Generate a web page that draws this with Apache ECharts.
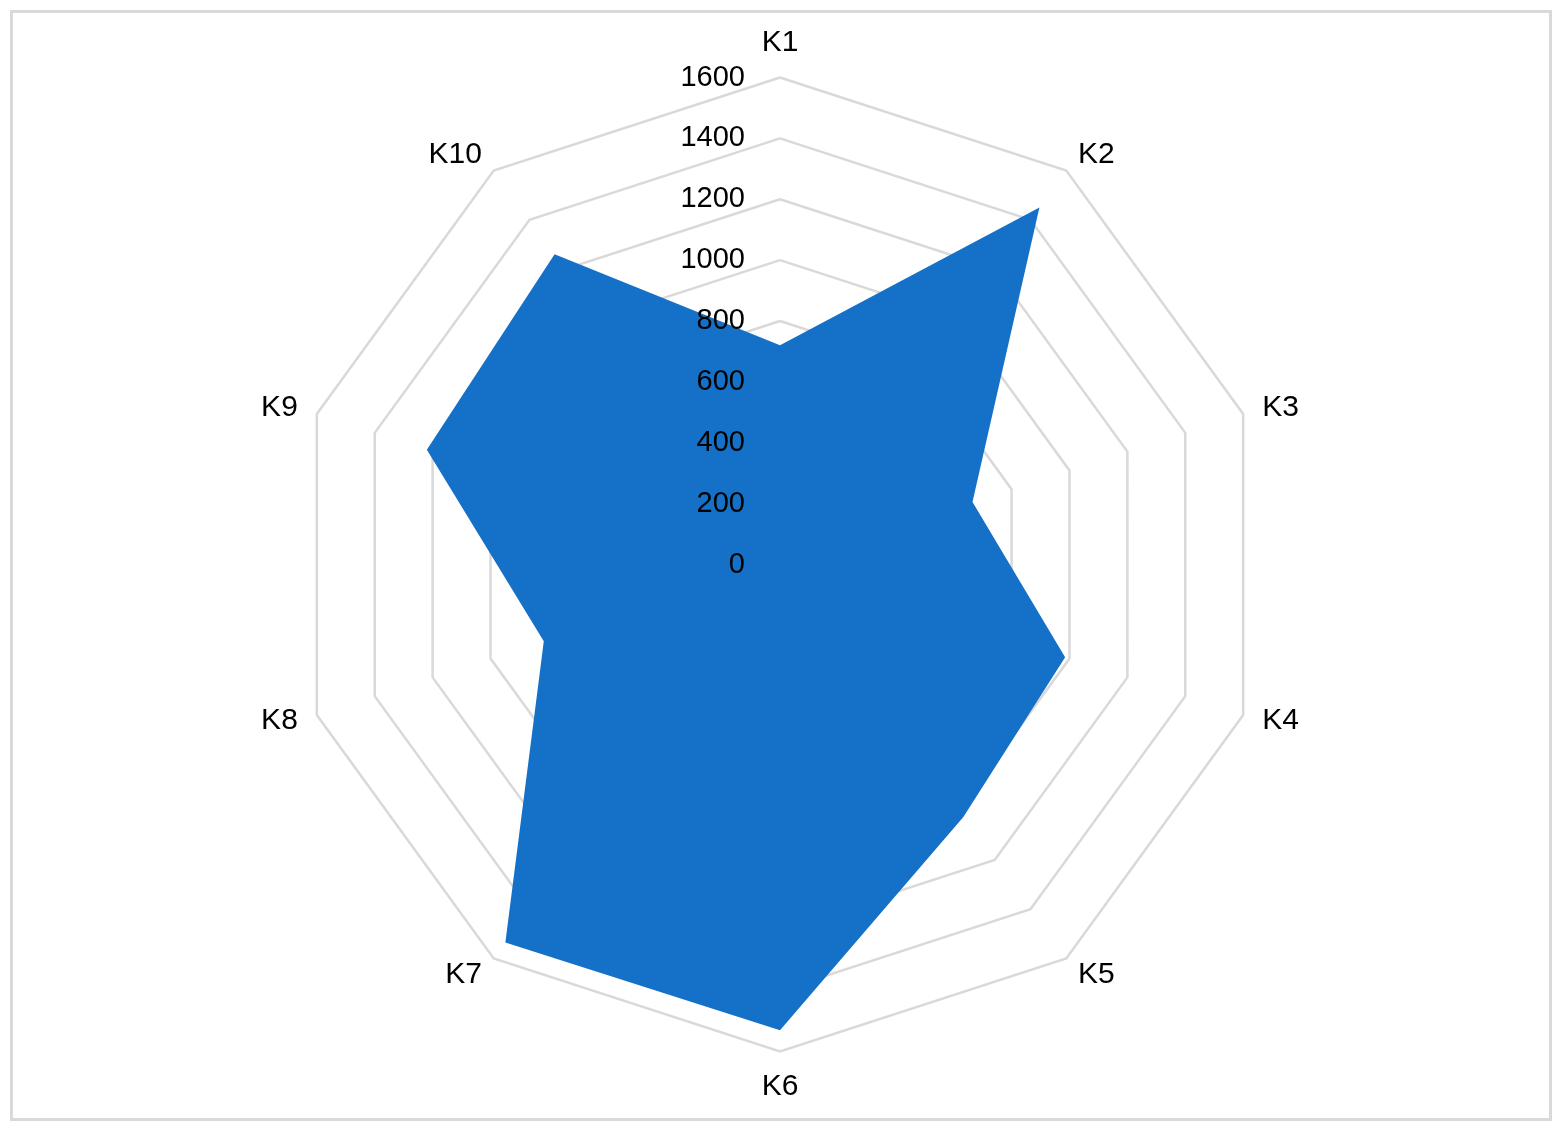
<!DOCTYPE html>
<html>
<head>
<meta charset="utf-8">
<script src="https://cdn.jsdelivr.net/npm/echarts@6/dist/echarts.min.js"></script>
<style>
html,body{margin:0;padding:0;background:#fff;}
#chart{width:1567px;height:1139px;}
</style>
</head>
<body>
<div id="chart"></div>
<script>
// Data (clockwise order from top, as in the reference)
const categories = ['K1','K2','K3','K4','K5','K6','K7','K8','K9','K10'];
const values = [720, 1450, 665, 985, 1025, 1530, 1535, 816, 1220, 1260];
const axisMax = 1600;
const axisMin = 0;
const splitCount = 8;

// ECharts places radar indicators counter-clockwise; reorder so they run clockwise.
const order = categories.map((_, i) => (categories.length - i) % categories.length);
const font = '"Liberation Sans", Arial, sans-serif';

const indicatorsBase = order.map(k => ({ name: categories[k], max: axisMax, min: axisMin }));
const indicatorsLabels = order.map((k, i) => ({
  name: categories[k], max: axisMax, min: axisMin,
  axisLabel: i === 0 ? { show: true } : { show: false }
}));

const geom = { center: [780, 564.5], radius: 487, startAngle: 90, shape: 'polygon', splitNumber: splitCount };

const chart = echarts.init(document.getElementById('chart'), null, { renderer: 'canvas' });
chart.setOption({
  backgroundColor: '#ffffff',
  animation: false,
  graphic: [{
    type: 'rect',
    shape: { x: 11.5, y: 11.5, width: 1539, height: 1108 },
    style: { fill: 'none', stroke: '#d9d9d9', lineWidth: 3 },
    z: 0
  }],
  radar: [
    Object.assign({}, geom, {
      z: 1,
      indicator: indicatorsBase,
      nameGap: 20,
      axisName: { color: '#000', fontSize: 30, fontFamily: font },
      splitLine: { lineStyle: { color: '#d9d9d9', width: 2.5 } },
      splitArea: { show: false },
      axisLine: { show: false },
      axisTick: { show: false },
      axisLabel: { show: false }
    }),
    Object.assign({}, geom, {
      z: 10,
      indicator: indicatorsLabels,
      axisName: { show: false },
      splitLine: { show: false },
      splitArea: { show: false },
      axisLine: { show: false },
      axisTick: { show: false },
      axisLabel: {
        show: false, color: '#000', fontSize: 29, fontFamily: font, margin: 35,
        padding: [6, 0, 0, 0],
        formatter: v => String(v)
      }
    })
  ],
  series: [{
    type: 'radar',
    radarIndex: 0,
    symbol: 'none',
    lineStyle: { width: 0 },
    areaStyle: { color: '#1571c7', opacity: 1 },
    itemStyle: { color: '#1571c7' },
    data: [{ value: order.map(k => values[k]), name: 'Series' }]
  }]
});
</script>
</body>
</html>
